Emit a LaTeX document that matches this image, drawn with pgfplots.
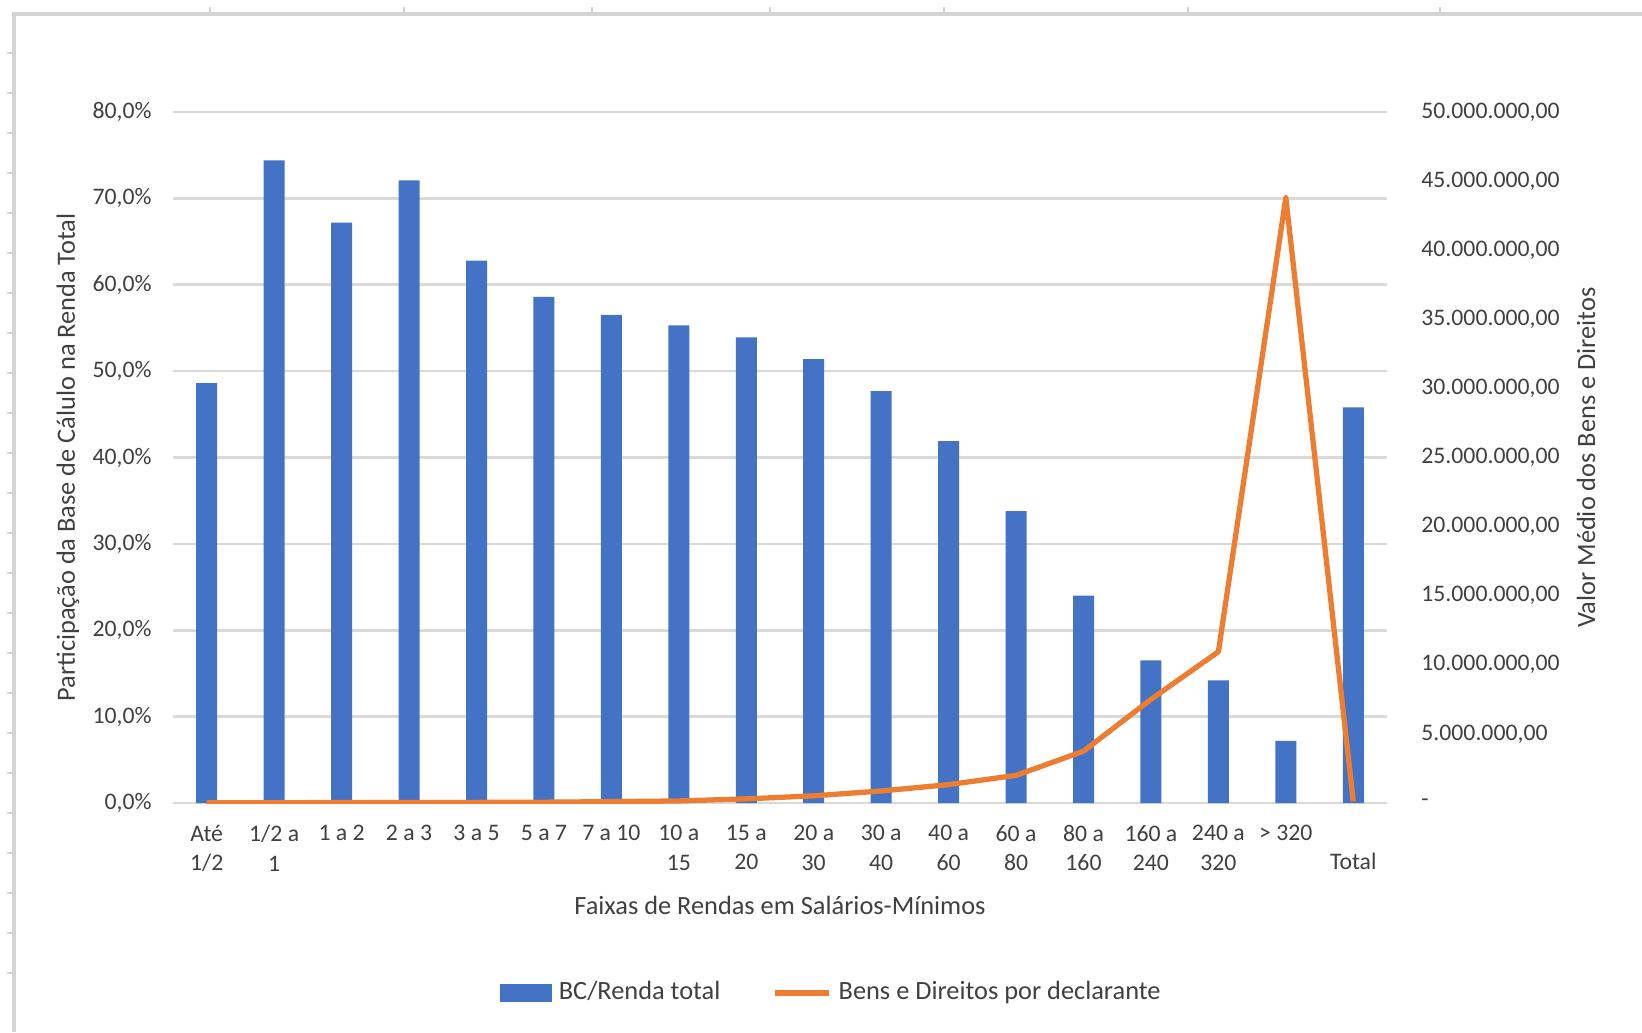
\documentclass[border=0pt]{standalone}
\usepackage{pgfplots}
\pgfplotsset{compat=1.18}
\usepackage{fontspec}
\setmainfont{Carlito}
\definecolor{barblue}{HTML}{4472C4}
\definecolor{lineorange}{HTML}{ED7D31}
\definecolor{gridgray}{HTML}{D9D9D9}
\definecolor{txt}{HTML}{404040}
\definecolor{framegray}{HTML}{D4D4D4}
\begin{document}
\begin{tikzpicture}[x=1cm,y=1cm]
\useasboundingbox (0,0) rectangle (16.42,10.32);
% spreadsheet cell borders around the chart
\draw[framegray, line width=0.9pt] (0.14,0) -- (0.14,10.18) -- (16.42,10.18);
\foreach \xx in {2.10,4.04,5.92,7.70,9.44,11.88,14.40}
  \draw[framegray, line width=0.6pt] (\xx,10.18) -- (\xx,10.25);
\foreach \k in {0,...,23}
  \draw[framegray, line width=0.6pt] (0.07,{9.79-0.40*\k}) -- (0.14,{9.79-0.40*\k});

\begin{axis}[
  at={(1.73cm,2.29cm)}, anchor=south west,
  width=12.14cm, height=6.91cm, scale only axis,
  xmin=-0.5, xmax=17.5, ymin=0, ymax=80,
  axis line style={draw=none}, tick style={draw=none},
  ymajorgrids, grid style={gridgray, line width=0.75pt},
  ytick={0,10,20,30,40,50,60,70,80},
  yticklabels={{0,0\%},{10,0\%},{20,0\%},{30,0\%},{40,0\%},{50,0\%},{60,0\%},{70,0\%},{80,0\%}},
  yticklabel style={font=\fontsize{6.75}{8.1}\selectfont, text=txt, xshift=-0.09cm},
  xtick={0,...,17},
  xticklabels={{Até\\1/2},{1/2 a\\1},{1 a 2},{2 a 3},{3 a 5},{5 a 7},{7 a 10},{10 a\\15},{15 a\\20},{20 a\\30},{30 a\\40},{40 a\\60},{60 a\\80},{80 a\\160},{160 a\\240},{240 a\\320},{> 320},{\vphantom{1}\\Total}},
  xticklabel style={font=\fontsize{6.75}{8.3}\selectfont, text=txt, align=center, anchor=north, yshift=-0.1cm},
  xlabel={Faixas de Rendas em Salários-Mínimos},
  xlabel style={at={(axis description cs:0.5,0)}, anchor=center, yshift=-1.02cm, font=\fontsize{7.5}{9}\selectfont, text=txt},
  ylabel={Participação da Base de Cálulo na Renda Total},
  ylabel style={at={(axis description cs:-0.0865,0.5)}, anchor=center, font=\fontsize{7.5}{9}\selectfont, text=txt},
]
\addplot[ybar, bar width=0.21cm, fill=barblue, draw=none] coordinates {
  (0,48.6) (1,74.4) (2,67.2) (3,72.1) (4,62.8) (5,58.6) (6,56.5) (7,55.3) (8,53.9)
  (9,51.4) (10,47.7) (11,41.9) (12,33.8) (13,24.0) (14,16.5) (15,14.2) (16,7.2) (17,45.8)
};
\end{axis}

\begin{axis}[
  at={(1.73cm,2.29cm)}, anchor=south west,
  width=12.14cm, height=6.91cm, scale only axis,
  xmin=-0.5, xmax=17.5, ymin=0, ymax=50000000,
  scaled y ticks=false,
  axis x line=none, axis y line*=right,
  axis line style={draw=none}, tick style={draw=none},
  ytick={0,5000000,10000000,15000000,20000000,25000000,30000000,35000000,40000000,45000000,50000000},
  yticklabels={{-},{5.000.000,00},{10.000.000,00},{15.000.000,00},{20.000.000,00},{25.000.000,00},{30.000.000,00},{35.000.000,00},{40.000.000,00},{45.000.000,00},{50.000.000,00}},
  yticklabel style={font=\fontsize{6.75}{8.1}\selectfont, text=txt, anchor=west, xshift=0.22cm},
  ylabel={Valor Médio dos Bens e Direitos},
  ylabel style={at={(axis description cs:1.164,0.5)}, anchor=center, font=\fontsize{7.5}{9}\selectfont, text=txt},
  legend style={at={(axis description cs:0.5445,-0.275)}, anchor=center, draw=none, fill=none,
    font=\fontsize{7.5}{9}\selectfont, text=txt, legend columns=2,
    /tikz/every even column/.append style={column sep=0.45cm}},
]
\addlegendimage{legend image code/.code={\fill[barblue] (0cm,-0.085cm) rectangle (0.5cm,0.085cm);}}
\addlegendentry{BC/Renda total}
\addplot[lineorange, line width=1.5pt, line join=round, mark=none,
  legend image code/.code={\draw[lineorange, line width=1.5pt] (0cm,0cm) -- (0.54cm,0cm);}] coordinates {
  (0,20000) (1,25000) (2,30000) (3,35000) (4,45000) (5,60000) (6,100000) (7,150000) (8,300000)
  (9,520000) (10,870000) (11,1330000) (12,2000000) (13,3750000) (14,7500000) (15,10950000) (16,43800000) (17,120000)
};
\addlegendentry{Bens e Direitos por declarante}
\end{axis}
\end{tikzpicture}
\end{document}
